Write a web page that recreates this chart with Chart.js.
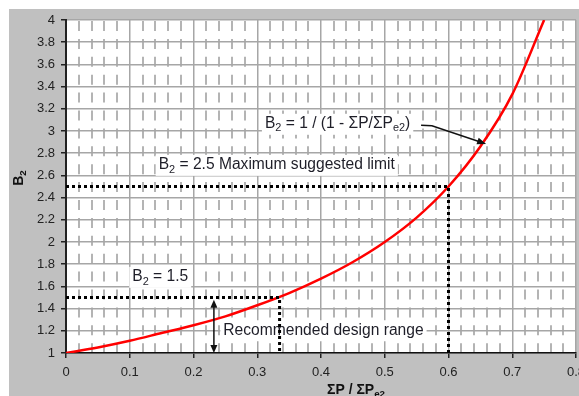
<!DOCTYPE html>
<html>
<head>
<meta charset="utf-8">
<script src="https://cdn.jsdelivr.net/npm/chart.js@4.4.1/dist/chart.umd.min.js"></script>
<style>
html, body { margin: 0; padding: 0; background: #fff; overflow: hidden; }
</style>
</head>
<body>
<canvas id="b2Chart" width="579" height="396"></canvas>
<script>
// amplification curve
const ratio = [0, 0.05, 0.1, 0.15, 0.2, 0.25, 0.3, 0.35, 0.4, 0.45, 0.5, 0.55, 0.6, 0.65, 0.7, 0.75];
const b2 = [1, 1.05, 1.11, 1.18, 1.25, 1.33, 1.43, 1.54, 1.67, 1.82, 2, 2.22, 2.5, 2.86, 3.33, 4];

// dotted guide lines
const limitX = [0, 0.6, 0.6];
const limitY = [2.5, 2.5, 1];
const rangeX = [0, 0.335, 0.335];
const rangeY = [1.5, 1.5, 1];

// axis ranges
const xRange = [0, 0.8];
const yRange = [1, 4];

const FONT = '"Liberation Sans", Arial, sans-serif';
const NOTE_SIZE = 15.6;

function pts(xs, ys) {
    return xs.map((x, i) => ({ x: x, y: ys[i] }));
}

// text pieces: [text, isSubscript]
const notes = [
    { x: 0.312, y: 3.065, parts: [['B', 0], ['2', 1], [' = 1 / (1 - ΣP/ΣP', 0], ['e2', 1], [')', 0]] },
    { x: 0.1454, y: 2.695, parts: [['B', 0], ['2', 1], [' = 2.5 Maximum suggested limit', 0]] },
    { x: 0.104, y: 1.686, parts: [['B', 0], ['2', 1], [' = 1.5', 0]] },
    { x: 0.2468, y: 1.205, parts: [['Recommended design range', 0]] }
];

function richWidth(ctx, parts, size, weight) {
    let w = 0;
    parts.forEach(p => {
        ctx.font = weight + ' ' + (p[1] ? size * 0.7 : size) + 'px ' + FONT;
        w += ctx.measureText(p[0]).width;
    });
    return w;
}

function drawRich(ctx, parts, x, y, size, weight) {
    ctx.textBaseline = 'middle';
    ctx.textAlign = 'left';
    parts.forEach(p => {
        ctx.font = weight + ' ' + (p[1] ? size * 0.7 : size) + 'px ' + FONT;
        ctx.fillText(p[0], x, p[1] ? y + size * 0.3 : y);
        x += ctx.measureText(p[0]).width;
    });
}

function arrowHead(ctx, x1, y1, x2, y2, len, half) {
    const a = Math.atan2(y2 - y1, x2 - x1);
    ctx.beginPath();
    ctx.moveTo(x2, y2);
    ctx.lineTo(x2 - len * Math.cos(a) + half * Math.sin(a), y2 - len * Math.sin(a) - half * Math.cos(a));
    ctx.lineTo(x2 - len * Math.cos(a) - half * Math.sin(a), y2 - len * Math.sin(a) + half * Math.cos(a));
    ctx.closePath();
    ctx.fill();
}

const decor = {
    id: 'decor',
    beforeDraw(chart) {
        const ctx = chart.ctx;
        const a = chart.chartArea;
        ctx.save();
        ctx.fillStyle = '#c0c0c0';
        ctx.fillRect(9, 9, chart.width - 9, chart.height - 9);
        ctx.fillStyle = '#ffffff';
        ctx.fillRect(a.left, a.top, a.right - a.left, a.bottom - a.top);
        ctx.restore();
    },
    beforeDatasetsDraw(chart) {
        const ctx = chart.ctx;
        const xs = chart.scales.x, ys = chart.scales.y;
        ctx.save();
        notes.forEach(n => {
            const px = xs.getPixelForValue(n.x);
            const py = ys.getPixelForValue(n.y);
            const w = richWidth(ctx, n.parts, NOTE_SIZE, 'normal');
            ctx.fillStyle = '#ffffff';
            ctx.fillRect(px - 3, py - 10, w + 6, 21);
            ctx.fillStyle = '#1e1e28';
            drawRich(ctx, n.parts, px, py, NOTE_SIZE, 'normal');
        });
        ctx.restore();
    },
    afterDatasetsDraw(chart) {
        const ctx = chart.ctx;
        const xs = chart.scales.x, ys = chart.scales.y;
        ctx.save();
        ctx.strokeStyle = '#111';
        ctx.fillStyle = '#111';
        ctx.lineWidth = 1.5;
        // double arrow for design range
        const ax = xs.getPixelForValue(0.232);
        const aTop = ys.getPixelForValue(1.48);
        const aBot = ys.getPixelForValue(1.0);
        ctx.beginPath();
        ctx.moveTo(ax, aTop + 4);
        ctx.lineTo(ax, aBot - 4);
        ctx.stroke();
        arrowHead(ctx, ax, aBot, ax, aTop, 8, 3.5);
        arrowHead(ctx, ax, aTop, ax, aBot, 8, 3.5);
        // pointer from formula to curve
        const p0 = [xs.getPixelForValue(0.557), ys.getPixelForValue(3.051)];
        const p1 = [xs.getPixelForValue(0.574), ys.getPixelForValue(3.047)];
        const p2 = [xs.getPixelForValue(0.659), ys.getPixelForValue(2.884)];
        ctx.beginPath();
        ctx.moveTo(p0[0], p0[1]);
        ctx.lineTo(p1[0], p1[1]);
        ctx.lineTo(p2[0] - 5, p2[1] - 1.6);
        ctx.stroke();
        arrowHead(ctx, p1[0], p1[1], p2[0], p2[1], 9, 3.5);
        // axis titles
        ctx.fillStyle = '#111';
        const xt = [['ΣP / ΣP', 0], ['e2', 1]];
        drawRich(ctx, xt, 327, 390, 14, 'bold');
        ctx.translate(19, 178);
        ctx.rotate(-Math.PI / 2);
        const yt = [['B', 0], ['2', 1]];
        drawRich(ctx, yt, -richWidth(ctx, yt, 14, 'bold') / 2, 0, 14, 'bold');
        ctx.restore();
    }
};

const b2Chart = new Chart(document.getElementById('b2Chart'), {
    type: 'scatter',
    plugins: [decor],
    data: {
        datasets: [
            {
                data: pts(limitX, limitY),
                showLine: true,
                borderColor: '#000',
                borderWidth: 3,
                borderDash: [3, 3],
                pointRadius: 0
            },
            {
                data: pts(rangeX, rangeY),
                showLine: true,
                borderColor: '#000',
                borderWidth: 3,
                borderDash: [3, 3],
                pointRadius: 0
            },
            {
                data: pts(ratio, b2),
                showLine: true,
                borderColor: '#ff0000',
                borderWidth: 2.5,
                cubicInterpolationMode: 'monotone',
                pointRadius: 0
            }
        ]
    },
    options: {
        responsive: false,
        animation: false,
        layout: { padding: { top: 20, right: 3, bottom: 0, left: 0 } },
        plugins: {
            legend: { display: false },
            tooltip: { enabled: false }
        },
        scales: {
            x: {
                type: 'linear',
                position: 'bottom',
                min: xRange[0],
                max: xRange[1],
                ticks: {
                    stepSize: 0.1, color: '#222', font: { family: FONT, size: 13 }, padding: 7,
                    maxRotation: 0, autoSkip: false,
                    callback: v => String(+v.toFixed(2))
                },
                grid: { color: '#a6a6a6', lineWidth: 1.5, tickColor: '#222', tickLength: 5 },
                border: { color: '#111', width: 1.5 },
                afterFit(s) { s.height = 43; s.paddingLeft = 0; s.paddingRight = 0; }
            },
            xm: {
                type: 'linear',
                position: 'bottom',
                min: xRange[0],
                max: xRange[1],
                ticks: { stepSize: 0.02, display: false },
                grid: {
                    drawTicks: false,
                    lineWidth: 2,
                    color: c => (c.index % 5 === 0 ? 'rgba(0,0,0,0)' : '#b4b4b4')
                },
                border: { display: false, dash: [10, 7.9], dashOffset: -1 },
                afterFit(s) { s.height = 0; s.paddingLeft = 0; s.paddingRight = 0; }
            },
            y: {
                min: yRange[0],
                max: yRange[1],
                ticks: {
                    stepSize: 0.2, color: '#222', font: { family: FONT, size: 13 }, padding: 6,
                    callback: v => String(+v.toFixed(2))
                },
                grid: { color: '#a6a6a6', lineWidth: 1.5, tickColor: '#222', tickLength: 5 },
                border: { color: '#222', width: 2 },
                afterFit(s) { s.width = 66; s.paddingTop = 0; s.paddingBottom = 0; }
            }
        }
    }
});
</script>
</body>
</html>
